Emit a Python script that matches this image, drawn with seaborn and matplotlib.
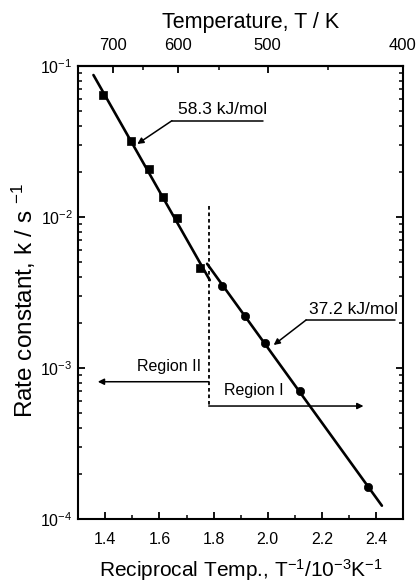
import numpy as np
import pandas as pd
import matplotlib
matplotlib.use("Agg")
import matplotlib.pyplot as plt
import seaborn as sns
from matplotlib.ticker import MultipleLocator, LogLocator, NullFormatter, FixedLocator

# Arrhenius data: reciprocal temperature (1e-3 / K) and rate constant (1/s)
inv_T_region2 = [1.391, 1.494, 1.562, 1.612, 1.664, 1.751]
k_region2 = [0.0643, 0.0320, 0.0207, 0.01363, 0.0098, 0.00457]
inv_T_region1 = [1.830, 1.917, 1.990, 2.121, 2.369]
k_region1 = [0.00349, 0.00221, 0.001458, 0.000707, 0.000162]

ea_labels = ["58.3 kJ/mol", "37.2 kJ/mol"]
region_labels = ["Region II", "Region I"]
boundary_x = 1.782
temp_major = [700, 600, 500, 400]
temp_minor = [650, 550, 450]

sns.set_style("ticks")
plt.rcParams['font.family'] = ['Liberation Sans', 'DejaVu Sans']
plt.rcParams['mathtext.fontset'] = 'custom'
plt.rcParams['mathtext.rm'] = 'Liberation Sans'
plt.rcParams['mathtext.it'] = 'Liberation Sans:italic'
plt.rcParams['mathtext.bf'] = 'Liberation Sans:bold'
for key in ("text.color", "axes.labelcolor", "xtick.color", "ytick.color",
            "xtick.labelcolor", "ytick.labelcolor", "axes.edgecolor"):
    plt.rcParams[key] = "black"

fig = plt.figure(figsize=(4.2, 5.86), dpi=100)
W, H = 420, 586
ax = fig.add_axes([78.3 / W, 1 - 519 / H, (403 - 78.3) / W, (519 - 66) / H])

df2 = pd.DataFrame({"x": inv_T_region2, "k": k_region2})
df1 = pd.DataFrame({"x": inv_T_region1, "k": k_region1})

# Least-squares Arrhenius fits in log space
def fit_line(df, x0, x1):
    p = np.polyfit(df["x"], np.log10(df["k"]), 1)
    xs = np.array([x0, x1])
    return pd.DataFrame({"x": xs, "k": 10 ** np.polyval(p, xs)})

line2 = fit_line(df2, 1.356, 1.786)
line1 = fit_line(df1, 1.776, 2.422)

sns.lineplot(data=line2, x="x", y="k", color="black", lw=1.9, ax=ax)
sns.lineplot(data=line1, x="x", y="k", color="black", lw=1.9, ax=ax)
sns.scatterplot(data=df2, x="x", y="k", marker="s", s=32, color="black",
                edgecolor="black", linewidth=0.5, ax=ax, zorder=3)
sns.scatterplot(data=df1, x="x", y="k", marker="o", s=36, color="black",
                edgecolor="black", linewidth=0.5, ax=ax, zorder=3)

ax.set_yscale("log")
ax.set_xlim(1.3, 2.5)
ax.set_ylim(1e-4, 1e-1)

# Region boundary and region arrows
ax.plot([boundary_x, boundary_x], [0.01183, 5.6e-4], color="black",
        lw=1.3, ls=(0, (2, 1.6)))
ax.annotate("", xy=(1.372, 8.11e-4), xytext=(boundary_x, 8.11e-4),
            arrowprops=dict(arrowstyle="-|>", color="black", lw=1.1,
                            mutation_scale=9, shrinkA=0, shrinkB=0))
ax.annotate("", xy=(2.354, 5.6e-4), xytext=(boundary_x, 5.6e-4),
            arrowprops=dict(arrowstyle="-|>", color="black", lw=1.1,
                            mutation_scale=9, shrinkA=0, shrinkB=0))
ax.text(1.634, 1.016e-3, region_labels[0], ha="center", va="center",
        fontsize=11.5, color="black")
ax.text(1.947, 7.05e-4, region_labels[1], ha="center", va="center",
        fontsize=11.5, color="black")

# Activation energy call-outs
ax.plot([1.646, 1.983], [0.04342, 0.04342], color="black", lw=1.1)
ax.annotate("", xy=(1.518, 0.03044), xytext=(1.646, 0.04342),
            arrowprops=dict(arrowstyle="-|>", color="black", lw=1.1,
                            mutation_scale=9, shrinkA=0, shrinkB=0))
ax.text(1.835, 0.0458, ea_labels[0], ha="center", va="bottom", fontsize=12.5,
        color="black")

ax.plot([2.142, 2.471], [0.00208, 0.00208], color="black", lw=1.1)
ax.annotate("", xy=(2.022, 0.00142), xytext=(2.142, 0.00208),
            arrowprops=dict(arrowstyle="-|>", color="black", lw=1.1,
                            mutation_scale=9, shrinkA=0, shrinkB=0))
ax.text(2.318, 0.00217, ea_labels[1], ha="center", va="bottom", fontsize=12.5,
        color="black")

# Axes styling
for s in ax.spines.values():
    s.set_linewidth(1.5)
    s.set_color("black")
ax.xaxis.set_major_locator(MultipleLocator(0.2))
ax.xaxis.set_minor_locator(MultipleLocator(0.1))
ax.xaxis.set_major_formatter(matplotlib.ticker.FormatStrFormatter("%.1f"))
ax.yaxis.set_major_locator(LogLocator(base=10, numticks=10))
ax.yaxis.set_minor_locator(LogLocator(base=10, subs=np.arange(2, 10), numticks=20))
ax.yaxis.set_minor_formatter(NullFormatter())
ax.tick_params(axis="both", which="major", direction="in", length=5,
               width=1.3, labelsize=11.5, colors="black")
ax.tick_params(axis="both", which="minor", direction="in", length=3,
               width=1.1, colors="black")
ax.tick_params(axis="y", which="both", right=True, left=True)
ax.tick_params(axis="x", which="both", top=False, bottom=True, pad=9)
ax.tick_params(axis="y", which="major", pad=4)

ax.set_xlabel(r"Reciprocal Temp., T$^{-1}$/10$^{-3}$K$^{-1}$", fontsize=15,
              color="black")
ax.set_ylabel(r"Rate constant, k / s $^{-1}$", fontsize=17.5, color="black")
ax.xaxis.set_label_coords(0.5, -0.085)
ax.yaxis.set_label_coords(-0.124, 0.483)

# Temperature scale on top
sec = ax.secondary_xaxis("top", functions=(lambda x: 1000.0 / x,
                                           lambda t: 1000.0 / t))
sec.xaxis.set_major_locator(FixedLocator(temp_major))
sec.xaxis.set_minor_locator(FixedLocator(temp_minor))
sec.xaxis.set_major_formatter(matplotlib.ticker.FormatStrFormatter("%d"))
sec.tick_params(axis="x", which="major", direction="in", length=5, width=1.3,
                labelsize=12, pad=9, colors="black")
sec.tick_params(axis="x", which="minor", direction="in", length=3, width=1.1,
                colors="black")
sec.spines["top"].set_linewidth(1.5)
sec.spines["top"].set_color("black")
sec.set_xlabel("Temperature, T / K", fontsize=15.5, color="black")
sec.xaxis.set_label_coords(0.529, 1.084, transform=ax.transAxes)

fig.savefig("out.png", dpi=100)
